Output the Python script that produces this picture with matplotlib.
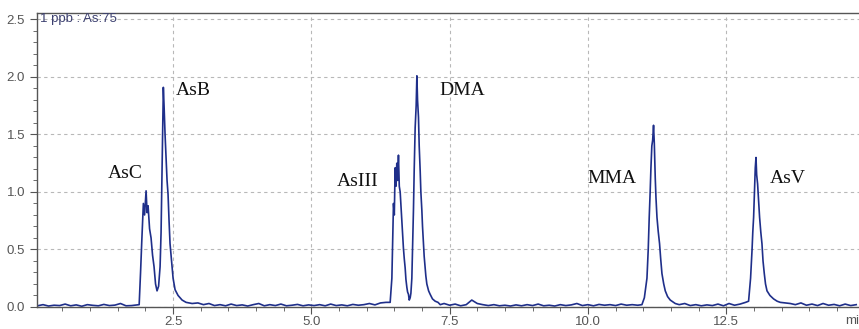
import numpy as np
import matplotlib
matplotlib.use('Agg')
import matplotlib.pyplot as plt
from matplotlib.ticker import MultipleLocator, FormatStrFormatter

# baseline stretches (time in min, signal)
base1_t = [0.05, 0.15, 0.25, 0.35, 0.45, 0.55, 0.65, 0.75, 0.85, 0.95,
           1.05, 1.15, 1.25, 1.35, 1.45, 1.55, 1.65, 1.75, 1.85]
base1_y = [0.01, 0.02, 0.008, 0.015, 0.012, 0.025, 0.01, 0.018, 0.006, 0.02,
           0.014, 0.01, 0.022, 0.012, 0.016, 0.03, 0.01, 0.012, 0.018]

# AsC + AsB
p1_t = [1.888, 1.913, 1.935, 1.964, 1.986, 2.013, 2.031, 2.049, 2.076, 2.103,
        2.13, 2.157, 2.184, 2.211, 2.239, 2.266, 2.284, 2.302, 2.325, 2.338,
        2.356, 2.374, 2.392, 2.41, 2.428, 2.446, 2.474, 2.501, 2.537, 2.591,
        2.664, 2.736, 2.845]
p1_y = [0.02, 0.3, 0.57, 0.9, 0.8, 1.01, 0.82, 0.88, 0.68, 0.6,
        0.45, 0.35, 0.2, 0.14, 0.18, 0.35, 0.65, 1.2, 1.91, 1.75,
        1.5, 1.3, 1.1, 0.98, 0.75, 0.55, 0.4, 0.25, 0.15, 0.1,
        0.06, 0.04, 0.03]

base2_t = [2.95, 3.05, 3.15, 3.25, 3.35, 3.45, 3.55, 3.65, 3.75, 3.85,
           3.95, 4.05, 4.15, 4.25, 4.35, 4.45, 4.55, 4.65, 4.75, 4.85,
           4.95, 5.05, 5.15, 5.25, 5.35, 5.45, 5.55, 5.65, 5.75, 5.85,
           5.95, 6.05, 6.15, 6.25, 6.35]
base2_y = [0.035, 0.02, 0.03, 0.012, 0.02, 0.01, 0.025, 0.012, 0.018, 0.008,
           0.02, 0.03, 0.01, 0.02, 0.012, 0.025, 0.01, 0.015, 0.022, 0.01,
           0.018, 0.012, 0.02, 0.01, 0.025, 0.012, 0.018, 0.01, 0.022, 0.015,
           0.02, 0.03, 0.018, 0.035, 0.04]

# AsIII + DMA
p2_t = [6.425, 6.456, 6.485, 6.50, 6.515, 6.53, 6.545, 6.56, 6.575, 6.59,
        6.606, 6.62, 6.637, 6.65, 6.665, 6.68, 6.696, 6.71, 6.727, 6.74,
        6.756, 6.77, 6.787, 6.80, 6.817, 6.83, 6.846, 6.86, 6.877, 6.895,
        6.908, 6.92, 6.937, 6.95, 6.968, 6.98, 6.998, 7.01, 7.027, 7.04,
        7.058, 7.07, 7.088, 7.12, 7.148, 7.19, 7.239, 7.29, 7.33]
p2_y = [0.04, 0.25, 0.9, 0.8, 1.21, 1.05, 1.25, 1.1, 1.32, 1.05,
        1.0, 0.88, 0.75, 0.62, 0.51, 0.42, 0.34, 0.24, 0.17, 0.13,
        0.11, 0.06, 0.08, 0.12, 0.25, 0.5, 0.84, 1.2, 1.56, 1.75,
        2.01, 1.8, 1.65, 1.4, 1.18, 1.0, 0.84, 0.7, 0.55, 0.44,
        0.34, 0.27, 0.2, 0.14, 0.11, 0.07, 0.05, 0.04, 0.02]

base3_t = [7.4, 7.5, 7.6, 7.7, 7.8, 7.9, 8.0, 8.1, 8.2, 8.3,
           8.4, 8.5, 8.6, 8.7, 8.8, 8.9, 9.0, 9.1, 9.2, 9.3,
           9.4, 9.5, 9.6, 9.7, 9.8, 9.9, 10.0, 10.1, 10.2, 10.3,
           10.4, 10.5, 10.6, 10.7, 10.8, 10.9]
base3_y = [0.03, 0.015, 0.025, 0.01, 0.02, 0.06, 0.03, 0.02, 0.012, 0.02,
           0.01, 0.015, 0.008, 0.018, 0.01, 0.02, 0.012, 0.025, 0.01, 0.015,
           0.008, 0.02, 0.012, 0.018, 0.03, 0.012, 0.02, 0.01, 0.022, 0.015,
           0.02, 0.012, 0.025, 0.015, 0.02, 0.015]

# MMA
p3_t = [10.976, 11.02, 11.067, 11.09, 11.108, 11.125, 11.139, 11.155, 11.17, 11.186,
        11.20, 11.217, 11.23, 11.248, 11.27, 11.295, 11.315, 11.338, 11.37, 11.398,
        11.44, 11.488, 11.578]
p3_y = [0.02, 0.08, 0.25, 0.5, 0.78, 1.0, 1.21, 1.4, 1.45, 1.58,
        1.42, 1.12, 0.95, 0.78, 0.66, 0.55, 0.42, 0.29, 0.2, 0.14,
        0.09, 0.06, 0.03]

base4_t = [11.65, 11.75, 11.85, 11.95, 12.05, 12.15, 12.25, 12.35, 12.45, 12.55,
           12.65, 12.75, 12.85]
base4_y = [0.02, 0.03, 0.012, 0.02, 0.01, 0.018, 0.012, 0.025, 0.01, 0.03,
           0.015, 0.025, 0.04]

# AsV
p4_t = [12.904, 12.94, 12.966, 12.98, 12.995, 13.01, 13.025, 13.038, 13.05, 13.067,
        13.085, 13.103, 13.125, 13.146, 13.165, 13.188, 13.21, 13.237, 13.29, 13.356,
        13.42, 13.477, 13.56, 13.658]
p4_y = [0.05, 0.25, 0.49, 0.65, 0.78, 1.0, 1.21, 1.30, 1.15, 1.07,
        0.92, 0.78, 0.65, 0.55, 0.4, 0.29, 0.2, 0.14, 0.1, 0.07,
        0.05, 0.04, 0.035, 0.03]

base5_t = [13.75, 13.85, 13.95, 14.05, 14.15, 14.25, 14.35, 14.45, 14.55, 14.65,
           14.75, 14.85]
base5_y = [0.02, 0.035, 0.015, 0.025, 0.012, 0.03, 0.015, 0.022, 0.01, 0.025,
           0.012, 0.02]

peak_names = ['AsC', 'AsB', 'AsIII', 'DMA', 'MMA', 'AsV']
label_x = [1.63, 2.86, 5.84, 7.73, 10.43, 13.62]
label_y = [1.16, 1.88, 1.09, 1.88, 1.12, 1.12]

time = np.concatenate([base1_t, p1_t, base2_t, p2_t, base3_t, p3_t, base4_t, p4_t, base5_t])
signal = np.concatenate([base1_y, p1_y, base2_y, p2_y, base3_y, p3_y, base4_y, p4_y, base5_y])

fig = plt.figure(figsize=(8.59, 3.29), dpi=100)
ax = fig.add_axes([0.043, 0.067, 0.957, 0.893])

ax.plot(time, signal, color='#1f2f8a', lw=1.2)

ax.set_xlim(0.04, 14.9)
ax.set_ylim(0, 2.555)
ax.xaxis.set_major_locator(MultipleLocator(2.5))
ax.xaxis.set_minor_locator(MultipleLocator(0.5))
ax.yaxis.set_major_locator(MultipleLocator(0.5))
ax.yaxis.set_minor_locator(MultipleLocator(0.1))
ax.xaxis.set_major_formatter(FormatStrFormatter('%.1f'))
ax.yaxis.set_major_formatter(FormatStrFormatter('%.1f'))

ax.grid(True, which='major', ls=(0, (3, 3)), color='#b8b8b8', lw=0.8)
ax.tick_params(which='major', length=5, color='#555555', labelcolor='#555555',
               labelsize=9.5, labelfontfamily='Liberation Sans')
ax.tick_params(axis='x', which='major', pad=1.5)
ax.tick_params(which='minor', length=3, color='#555555')

for s in ['left', 'bottom', 'top']:
    ax.spines[s].set_color('#555555')
    ax.spines[s].set_linewidth(1.0)
ax.spines['right'].set_visible(False)

ax.text(0.1, 2.5, '1 ppb : As:75', color='#3c4070', fontsize=9.5,
        family='Liberation Sans', va='center', ha='left')

for name, lx, ly in zip(peak_names, label_x, label_y):
    ax.text(lx, ly, name, family='Liberation Serif', fontsize=14,
            ha='center', va='center', color='#111111')

fig.text(845 / 859, 0.006, 'min', color='#555555', fontsize=9.5,
         family='Liberation Sans', ha='left', va='bottom')

plt.savefig('out.png', dpi=100)
